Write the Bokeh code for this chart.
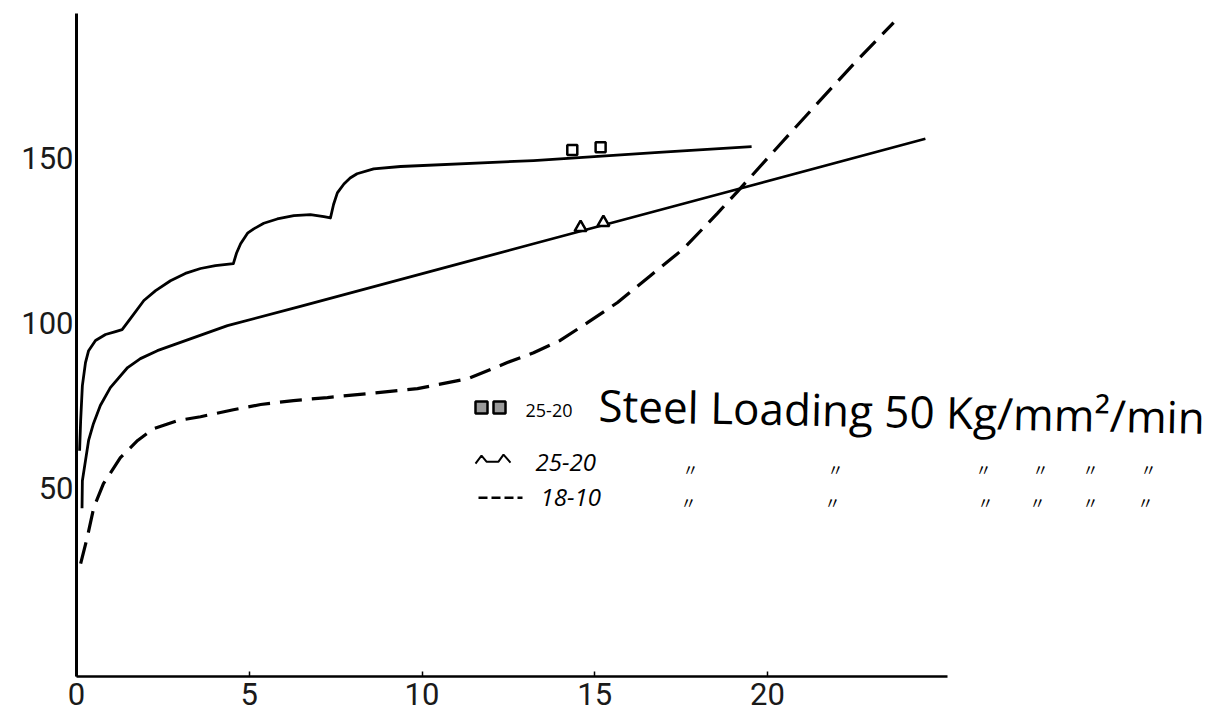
from bokeh.plotting import figure
from bokeh.models import Range1d, FixedTicker
from bokeh.core.properties import value
from bokeh.embed import file_html
from bokeh.resources import INLINE

# ---- data ----
x_ticks = [0, 5, 10, 15, 20]
y_ticks = [50, 100, 150]

# 25-20 steel, squares curve (scalloped)
sq_curve_x = [0.09, 0.12, 0.17, 0.26, 0.35, 0.55, 0.84, 1.13, 1.32, 1.56, 1.95, 2.29, 2.72, 3.15,
              3.59, 4.02, 4.54, 4.63, 4.75, 4.95, 5.13, 5.42, 5.81, 6.29, 6.77, 7.16, 7.35, 7.44,
              7.55, 7.74, 7.92, 8.12, 8.6, 9.38, 13.23, 16.85, 19.54]
sq_curve_y = [61.4, 70.5, 81.1, 88.1, 91.7, 94.8, 96.6, 97.5, 98.1, 101.4, 106.9, 109.9, 112.9, 115.1,
              116.6, 117.5, 118.1, 121.2, 124.1, 127.3, 128.6, 130.3, 131.6, 132.6, 132.9, 132.3, 131.9, 136.0,
              139.5, 142.2, 144.0, 145.3, 146.8, 147.5, 149.3, 151.8, 153.5]
sq_mark_x = [14.35, 15.17]
sq_mark_y = [152.5, 153.3]

# 25-20 steel, triangles curve
tri_curve_x = [0.16, 0.17, 0.26, 0.35, 0.49, 0.69, 0.98, 1.48, 1.85, 2.34, 3.01, 4.37, 6.48, 13.23, 19.02, 24.57]
tri_curve_y = [44.0, 52.3, 58.4, 64.5, 69.6, 75.1, 80.5, 86.6, 89.3, 91.7, 94.2, 99.3, 105.1, 124.1, 140.3, 155.9]
tri_mark_x = [14.59, 15.25]
tri_mark_y = [129.0, 130.5]

# 18-10 steel, dashed curve
dash_x = [0.12, 0.31, 0.5, 0.78, 1.27, 1.77, 2.23, 2.92, 3.59, 4.54, 5.33, 6.28, 7.26, 8.42, 9.87,
          11.32, 12.47, 13.23, 14.0, 14.79, 15.66, 16.61, 17.57, 18.55, 19.13, 20.38, 21.53, 22.49, 23.65]
dash_y = [27.2, 35.1, 44.2, 51.4, 59.3, 64.5, 68.1, 70.5, 71.7, 73.8, 75.4, 76.6, 77.5, 78.7, 80.2,
          83.2, 88.1, 91.1, 94.8, 100.2, 106.3, 114.4, 122.6, 133.3, 139.9, 154.4, 167.6, 178.5, 191.1]

legend_title = "Steel Loading 50 Kg/mm²/min"
legend_names = ["25-20", "25-20", "18-10"]
ditto = "〃"

# ---- layout helpers (pixel -> data) ----
X0, XS = 76.0, 34.55
Y0, YS = 652.7, 3.3
def dx(px):
    return (px - X0) / XS
def dy(py):
    return (Y0 - py) / YS

p = figure(width=1212, height=717,
           x_range=Range1d(0, dx(1212)), y_range=Range1d(-7, dy(0)),
           min_border_left=76, min_border_right=0, min_border_top=0, min_border_bottom=41,
           toolbar_location=None, output_backend="svg")
p.outline_line_color = None
p.xgrid.visible = False
p.ygrid.visible = False
p.background_fill_color = "white"
p.border_fill_color = "white"

# axes
p.xaxis.ticker = FixedTicker(ticks=x_ticks)
p.yaxis.ticker = FixedTicker(ticks=y_ticks)
p.xaxis.bounds = (0, 25.2)
p.yaxis.bounds = (-7, 193.8)
p.xaxis.axis_line_width = 2.5
p.yaxis.axis_line_width = 3
p.xaxis.axis_line_color = "black"
p.yaxis.axis_line_color = "black"
p.xaxis.major_tick_in = 5
p.xaxis.major_tick_out = 0
p.xaxis.major_tick_line_width = 1.5
p.yaxis.major_tick_in = 0
p.yaxis.major_tick_out = 0
p.xaxis.minor_tick_line_color = None
p.yaxis.minor_tick_line_color = None
for ax in (p.xaxis, p.yaxis):
    ax.major_label_text_font = "Roboto"
    ax.major_label_text_font_size = "31px"
    ax.major_label_text_color = "#1a1a1a"
p.xaxis.major_label_standoff = 6
p.yaxis.major_label_standoff = 3

# curves
p.line(sq_curve_x, sq_curve_y, line_color="black", line_width=2.8, line_join="round")
p.line(tri_curve_x, tri_curve_y, line_color="black", line_width=2.8, line_join="round")
p.line(dash_x, dash_y, line_color="black", line_width=3.2, line_dash="22 10")

# markers on curves
p.scatter(sq_mark_x, sq_mark_y, marker="square", size=10, line_color="black",
          line_width=2.5, fill_color="white")
p.scatter(tri_mark_x, tri_mark_y, marker="triangle", size=12, line_color="black",
          line_width=2.5, fill_color="white")

# ---- legend (hand-drawn style) ----
# row 1 icon: two squares
p.scatter([dx(481), dx(499)], [dy(407), dy(407)], marker="square", size=12,
          line_color="black", line_width=2.5, fill_color="#9a9a9a")
# row 2 icon: wavy line with two bumps
p.line([dx(475), dx(481), dx(486), dx(492), dx(498), dx(503), dx(510)],
       [dy(463), dy(455), dy(461), dy(461), dy(461), dy(454), dy(462)],
       line_color="black", line_width=2)
# row 3 icon: short dashed line
p.line([dx(478), dx(522)], [dy(497), dy(497)], line_color="black", line_width=2.5, line_dash="9 4")

p.text(x=[dx(525)], y=[dy(410)], text=[legend_names[0]], text_font=value("Open Sans"),
       text_font_size="18px", text_baseline="middle", text_align="left", text_color="black")
p.text(x=[dx(598)], y=[dy(404)], text=[legend_title], text_font=value("Open Sans"),
       text_font_size="44px", text_baseline="middle", text_align="left", text_color="black",
       angle=-0.02)
p.text(x=[dx(535), dx(540)], y=[dy(462), dy(497)], text=legend_names[1:], text_font=value("Open Sans"),
       text_font_size="24px", text_font_style="italic", text_baseline="middle",
       text_align="left", text_color="black")

d2x = [690, 835, 983, 1040, 1090, 1148]
d3x = [688, 832, 985, 1037, 1090, 1145]
p.text(x=[dx(v) for v in d2x], y=[dy(468)] * len(d2x), text=[ditto] * len(d2x),
       text_font=value("Noto Sans CJK JP"), text_font_size="16px", text_baseline="middle",
       text_align="center", text_color="black")
p.text(x=[dx(v) for v in d3x], y=[dy(501)] * len(d3x), text=[ditto] * len(d3x),
       text_font=value("Noto Sans CJK JP"), text_font_size="16px", text_baseline="middle",
       text_align="center", text_color="black")

open("out.html", "w").write(file_html(p, INLINE))
